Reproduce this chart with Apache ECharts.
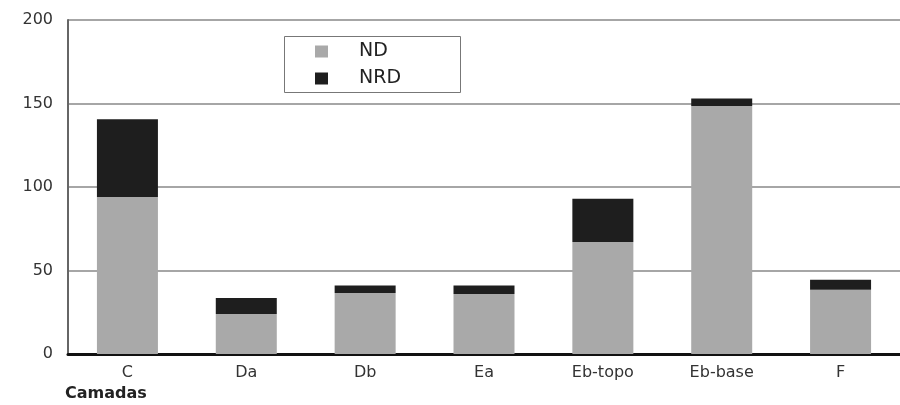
<!DOCTYPE html>
<html><head><meta charset="utf-8">
<script src="https://cdn.jsdelivr.net/npm/echarts@6/dist/echarts.min.js"></script>
<style>html,body{margin:0;padding:0;background:#fff}#c{width:900px;height:405px}</style>
</head><body><div id="c"></div>
<script>
var categories = ['C','Da','Db','Ea','Eb-topo','Eb-base','F'];
var ndValues = [94, 24, 36.5, 36, 67, 148.5, 38.5];
var nrdValues = [46.5, 9.5, 4.5, 5, 26, 4.5, 6];
var yTicks = [0, 50, 100, 150, 200];

var FONT = '"DejaVu Sans", Arial, sans-serif';
var chart = echarts.init(document.getElementById('c'));
chart.setOption({
  animation: false,
  backgroundColor: '#fff',
  grid: { left: 68, top: 20, width: 840, height: 334 },
  graphic: [
    { type: 'rect', left: 284, top: 36, shape: { width: 176, height: 56 },
      style: { fill: '#fff', stroke: '#777', lineWidth: 1 }, z: 10 },
    { type: 'text', left: 65, top: 386,
      style: { text: 'Camadas', font: 'bold 16px "DejaVu Sans", Arial, sans-serif', fill: '#222' } }
  ],
  legend: {
    orient: 'vertical', left: 310, top: 37, itemWidth: 13, itemHeight: 12, itemGap: 8,
    icon: 'rect', z: 20,
    textStyle: { fontSize: 19, color: '#222', fontFamily: FONT, padding: [0,0,0,26] },
    data: ['ND', 'NRD']
  },
  xAxis: {
    type: 'category', data: categories,
    axisLine: { lineStyle: { color: '#111', width: 3 } },
    axisTick: { show: false },
    axisLabel: { fontSize: 16, color: '#333', margin: 11, fontFamily: FONT }
  },
  yAxis: {
    type: 'value', min: 0, max: 200, interval: 50,
    axisLine: { show: true, lineStyle: { color: '#666', width: 2 } },
    axisTick: { show: false },
    splitLine: { lineStyle: { color: '#888', width: 1.5 } },
    axisLabel: { fontSize: 16, color: '#333', margin: 15, fontFamily: FONT,
      formatter: function (v) { return yTicks.indexOf(v) >= 0 ? String(v) : ''; } }
  },
  series: [
    { name: 'ND', type: 'bar', stack: 's', data: ndValues, barWidth: 61,
      itemStyle: { color: '#a9a9a9' } },
    { name: 'NRD', type: 'bar', stack: 's', data: nrdValues, barWidth: 61,
      itemStyle: { color: '#1e1e1e' } }
  ]
});
</script></body></html>
